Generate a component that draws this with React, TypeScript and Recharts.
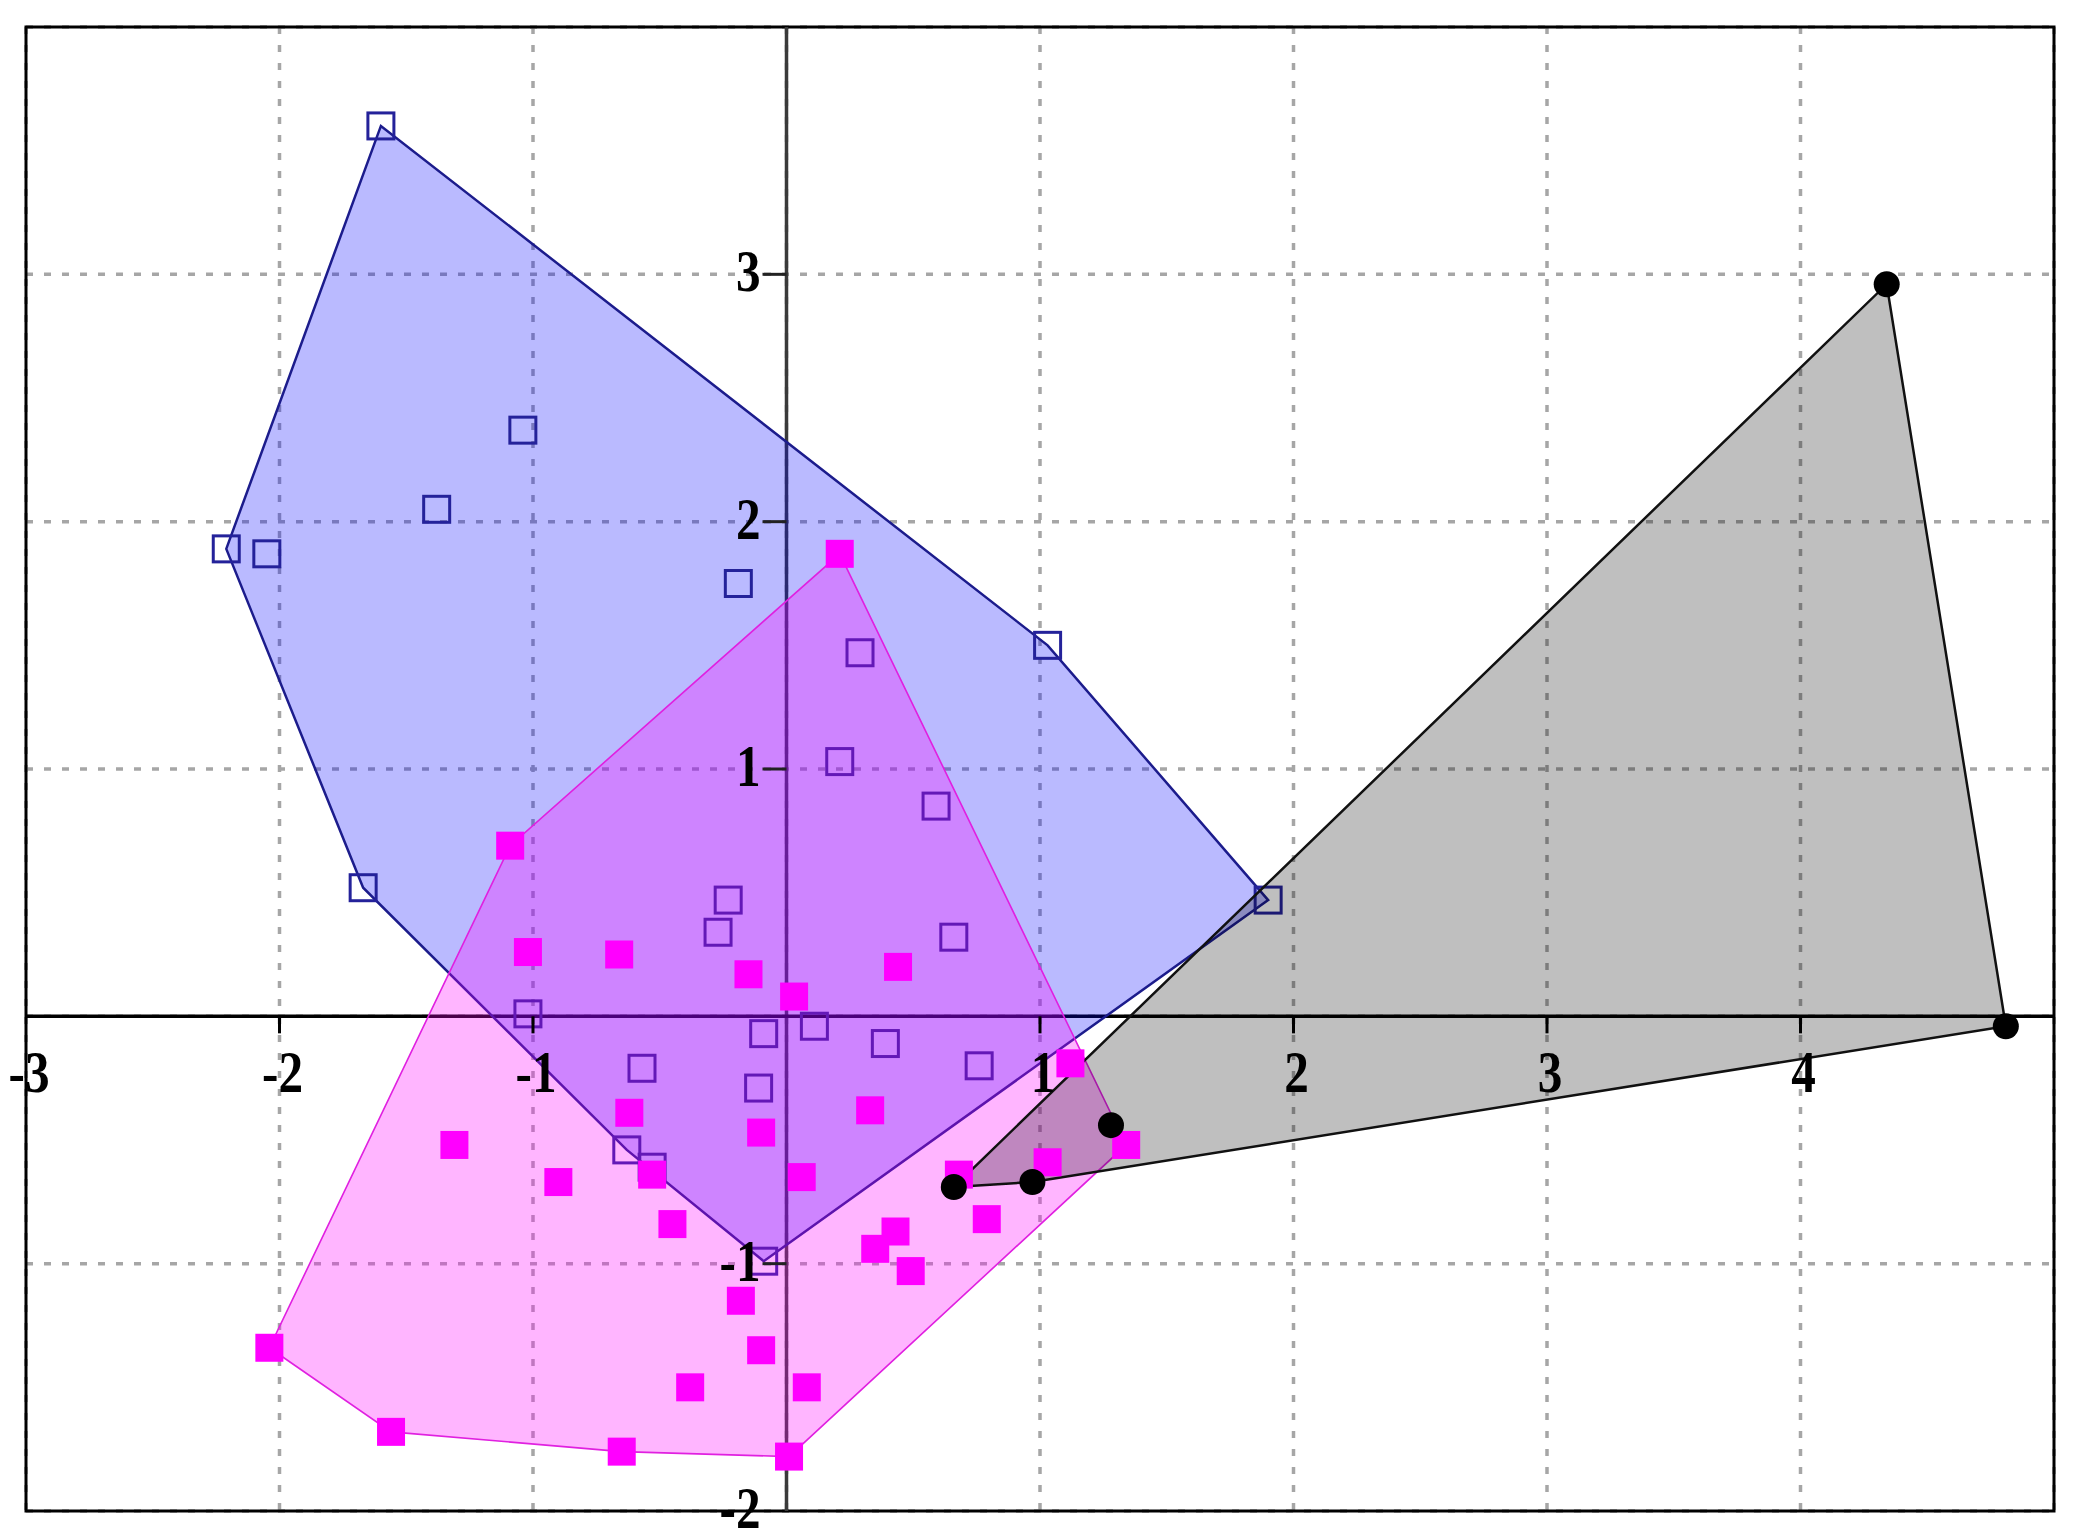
import React from "react";
import { ScatterChart, Scatter, XAxis, YAxis, CartesianGrid, ReferenceLine, ReferenceArea } from "recharts";

type Pt = { x: number; y: number };

// open blue squares
const blueSquares: Pt[] = [
  { x: -1.6, y: 3.6 }, { x: -1.04, y: 2.37 }, { x: -1.38, y: 2.05 }, { x: -2.21, y: 1.89 },
  { x: -2.05, y: 1.87 }, { x: -0.19, y: 1.75 }, { x: 1.03, y: 1.5 }, { x: 0.29, y: 1.47 },
  { x: 0.21, y: 1.03 }, { x: 0.59, y: 0.85 }, { x: -1.67, y: 0.52 }, { x: 1.9, y: 0.47 },
  { x: -0.23, y: 0.47 }, { x: -0.27, y: 0.34 }, { x: 0.66, y: 0.32 }, { x: -1.02, y: 0.01 },
  { x: -0.09, y: -0.07 }, { x: 0.11, y: -0.04 }, { x: 0.39, y: -0.11 }, { x: -0.57, y: -0.21 },
  { x: 0.76, y: -0.2 }, { x: -0.11, y: -0.29 }, { x: -0.63, y: -0.54 }, { x: -0.53, y: -0.61 },
  { x: -0.09, y: -0.99 },
];

// filled magenta squares
const pinkSquares: Pt[] = [
  { x: 0.21, y: 1.87 }, { x: -1.09, y: 0.69 }, { x: -1.02, y: 0.26 }, { x: -0.66, y: 0.25 },
  { x: -0.15, y: 0.17 }, { x: 0.03, y: 0.08 }, { x: 0.44, y: 0.2 }, { x: 1.12, y: -0.19 },
  { x: -0.62, y: -0.39 }, { x: -0.1, y: -0.47 }, { x: 0.33, y: -0.38 }, { x: -1.31, y: -0.52 },
  { x: 1.34, y: -0.52 }, { x: 1.03, y: -0.59 }, { x: -0.9, y: -0.67 }, { x: -0.53, y: -0.64 },
  { x: 0.06, y: -0.65 }, { x: 0.68, y: -0.64 }, { x: -0.45, y: -0.84 }, { x: 0.79, y: -0.82 },
  { x: 0.43, y: -0.87 }, { x: 0.35, y: -0.94 }, { x: 0.49, y: -1.03 }, { x: -0.18, y: -1.15 },
  { x: -2.04, y: -1.34 }, { x: -0.1, y: -1.35 }, { x: -0.38, y: -1.5 }, { x: 0.08, y: -1.5 },
  { x: -1.56, y: -1.68 }, { x: -0.65, y: -1.76 }, { x: 0.01, y: -1.78 },
];

// black dots
const blackDots: Pt[] = [
  { x: 4.34, y: 2.96 }, { x: 4.81, y: -0.04 }, { x: 1.28, y: -0.44 }, { x: 0.97, y: -0.67 }, { x: 0.66, y: -0.69 },
];

const gridX = [-3, -2, -1, 0, 1, 2, 3, 4, 5];
const gridY = [-2, -1, 0, 1, 2, 3, 4];
const xTickMarks = [-2, -1, 1, 2, 3, 4];
const yTickMarks = [-1, 1, 2, 3];
const xTickLabels = ["-3", "-2", "-1", "1", "2", "3", "4"];
const yTickLabels = ["-2", "-1", "1", "2", "3"];

const FONT = "'Liberation Serif', 'Times New Roman', serif";

// convex hull (monotone chain)
function hull(points: Pt[]): Pt[] {
  const p = [...points].sort((a, b) => a.x - b.x || a.y - b.y);
  const cross = (o: Pt, a: Pt, b: Pt) => (a.x - o.x) * (b.y - o.y) - (a.y - o.y) * (b.x - o.x);
  const lower: Pt[] = [];
  for (const q of p) {
    while (lower.length >= 2 && cross(lower[lower.length - 2], lower[lower.length - 1], q) <= 0) lower.pop();
    lower.push(q);
  }
  const upper: Pt[] = [];
  for (let i = p.length - 1; i >= 0; i--) {
    const q = p[i];
    while (upper.length >= 2 && cross(upper[upper.length - 2], upper[upper.length - 1], q) <= 0) upper.pop();
    upper.push(q);
  }
  return lower.slice(0, -1).concat(upper.slice(0, -1));
}

const polygonLine = (fill: string, stroke: string, width: number) => (props: any) => {
  const pts = (props.points || []).map((p: any) => `${p.x},${p.y}`).join(" ");
  return <polygon points={pts} fill={fill} stroke={stroke} strokeWidth={width} strokeLinejoin="miter" />;
};

const noShape = () => <g />;

const OpenSquare = (p: any) => (
  <rect x={p.cx - 13} y={p.cy - 13} width={26} height={26} fill="none" stroke="#24229a" strokeWidth={3} />
);
const FilledSquare = (p: any) => <rect x={p.cx - 14} y={p.cy - 14} width={28} height={28} fill="#ff00ff" />;
const Dot = (p: any) => <circle cx={p.cx} cy={p.cy} r={13} fill="#000" />;

const XTick = (p: any) => <line x1={p.cx} y1={p.cy} x2={p.cx} y2={p.cy + 17} stroke="#000" strokeWidth={3} />;
const YTick = (p: any) => <line x1={p.cx} y1={p.cy} x2={p.cx - 24} y2={p.cy} stroke="#222" strokeWidth={3} />;

const XLabel = (p: any) => (
  <text transform={`translate(${p.cx + 3},${p.cy + 76}) scale(0.82,1)`} textAnchor="middle"
    fontFamily={FONT} fontWeight="bold" fontSize={60} fill="#000">{p.payload.label}</text>
);
const YLabel = (p: any) => (
  <text transform={`translate(${p.cx - 26},${p.cy + 17}) scale(0.82,1)`} textAnchor="end"
    fontFamily={FONT} fontWeight="bold" fontSize={60} fill="#000">{p.payload.label}</text>
);

export default function App() {
  const xMarks = xTickMarks.map((v) => ({ x: v, y: 0 }));
  const yMarks = yTickMarks.map((v) => ({ x: 0, y: v }));
  const xLabels = xTickLabels.map((l) => ({ x: Number(l), y: 0, label: l }));
  const yLabels = yTickLabels.map((l) => ({ x: 0, y: Number(l), label: l }));

  return (
    <div style={{ position: "absolute", left: 0, top: 0, background: "#fff" }}>
      <ScatterChart width={2078} height={1538} margin={{ top: 27, right: 24, bottom: 27, left: 26 }}>
        <XAxis type="number" dataKey="x" domain={[-3, 5]} ticks={gridX} hide />
        <YAxis type="number" dataKey="y" domain={[-2, 4]} ticks={gridY} hide />
        <CartesianGrid stroke="#a6a6a6" strokeWidth={3.5} strokeDasharray="7 11" />
        <ReferenceLine x={0} stroke="#3a3a3a" strokeWidth={3.5} />
        <ReferenceLine y={0} stroke="#000" strokeWidth={3.5} />

        <Scatter data={hull(blueSquares)} shape={noShape} line={polygonLine("rgba(0,0,255,0.27)", "#1c1c8c", 2.5)} isAnimationActive={false} />
        <Scatter data={blueSquares} shape={OpenSquare} isAnimationActive={false} />
        <Scatter data={hull(pinkSquares)} shape={noShape} line={polygonLine("rgba(255,0,255,0.29)", "#e020e0", 1.6)} isAnimationActive={false} />
        <Scatter data={hull(blackDots)} shape={noShape} line={polygonLine("rgba(0,0,0,0.25)", "#111", 2.5)} isAnimationActive={false} />
        <Scatter data={pinkSquares} shape={FilledSquare} isAnimationActive={false} />
        <Scatter data={blackDots} shape={Dot} isAnimationActive={false} />

        <Scatter data={xMarks} shape={XTick} isAnimationActive={false} />
        <Scatter data={yMarks} shape={YTick} isAnimationActive={false} />
        <Scatter data={xLabels} shape={XLabel} isAnimationActive={false} />
        <Scatter data={yLabels} shape={YLabel} isAnimationActive={false} />

        <ReferenceArea x1={-3} x2={5} y1={-2} y2={4} fill="none" fillOpacity={0} stroke="#000" strokeWidth={3} />
      </ScatterChart>
    </div>
  );
}
